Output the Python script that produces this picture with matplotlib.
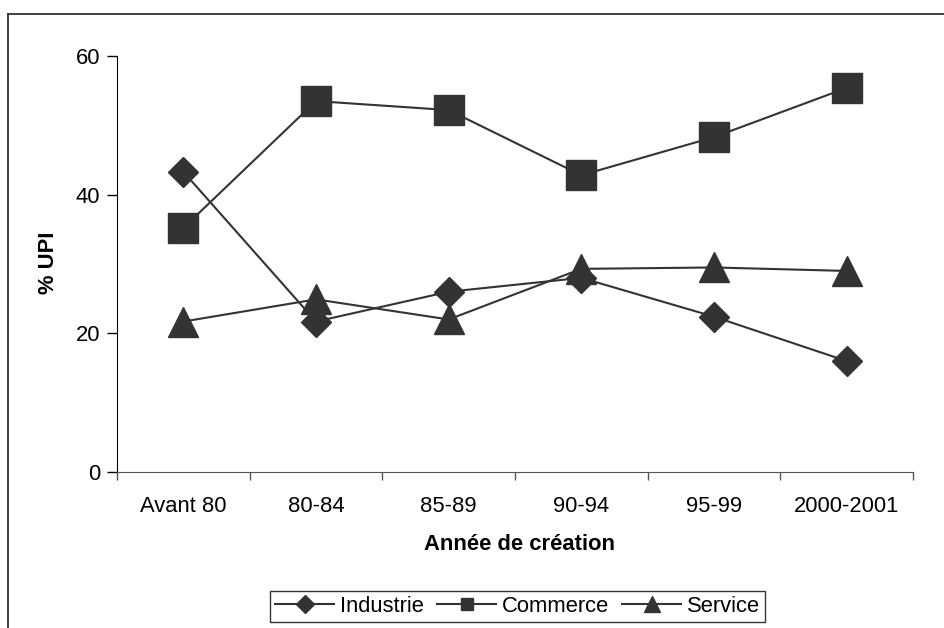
import numpy as np
import matplotlib
matplotlib.use("Agg")
import matplotlib.pyplot as plt
from matplotlib.lines import Line2D

categories = ["Avant 80", "80-84", "85-89", "90-94", "95-99", "2000-2001"]
industrie = [43.3, 21.7, 26.0, 28.0, 22.4, 16.0]
commerce = [35.2, 53.5, 52.2, 42.8, 48.3, 55.4]
service = [21.7, 24.9, 22.0, 29.3, 29.5, 29.0]

plt.rcParams["font.family"] = ["Liberation Sans", "DejaVu Sans"]
FS = 15.8
C = "#333333"
LW = 1.5

fig = plt.figure(figsize=(9.44, 6.28), dpi=100)
ax = fig.add_axes([117/944, 1-472/628, (913-117)/944, (472-56)/628])

x = np.arange(len(categories))
ax.plot(x, industrie, color=C, lw=LW, marker="D", ms=15.6, mec=C, mfc=C)
ax.plot(x, commerce, color=C, lw=LW, marker="s", ms=22, mec=C, mfc=C)
ax.plot(x, service, color=C, lw=LW, marker="^", ms=22, mec=C, mfc=C)

ax.set_xlim(-0.5, len(categories)-0.5)
ax.set_ylim(0, 60)
ax.set_yticks([0, 20, 40, 60])
ax.tick_params(axis="y", direction="out", length=7, width=1, pad=5, labelsize=FS, colors="black")
ax.set_xticks(x)
ax.set_xticklabels(categories)
ax.set_xticks(np.arange(-0.5, len(categories)), minor=True)
ax.tick_params(axis="x", which="major", length=0, pad=17, labelsize=FS)
ax.tick_params(axis="x", which="minor", direction="out", length=6, width=1, color="#555555")
for s in ["top", "right"]:
    ax.spines[s].set_visible(False)
ax.spines["left"].set_color("black")
ax.spines["bottom"].set_color("#555555")

fig.text(520/944, 1-545/628, "Année de création", ha="center", va="center", fontsize=FS, fontweight="bold")
fig.text(48/944, 1-263/628, "% UPI", ha="center", va="center", rotation=90, fontsize=FS, fontweight="bold")

handles = [
    Line2D([], [], color=C, lw=LW, marker="D", ms=9, mfc=C, mec=C),
    Line2D([], [], color=C, lw=LW, marker="s", ms=9, mfc=C, mec=C),
    Line2D([], [], color=C, lw=LW, marker="^", ms=11, mfc=C, mec=C),
]
leg = fig.legend(handles, ["Industrie", "Commerce", "Service"], loc="center",
                 bbox_to_anchor=(517.5/944, 1-606.5/628), ncol=3, fontsize=FS,
                 frameon=True, fancybox=False, edgecolor="black", handlelength=2.7,
                 handletextpad=0.25, columnspacing=0.6, borderpad=0.22, borderaxespad=0)
leg.get_frame().set_linewidth(1.0)

# outer chart frame (top and left visible)
fig.add_artist(Line2D([8/944, 8/944], [0, 1-14/628], color=C, lw=1.3, transform=fig.transFigure))
fig.add_artist(Line2D([8/944, 1], [1-14/628, 1-14/628], color=C, lw=1.3, transform=fig.transFigure))

fig.savefig("out.png", dpi=100)
